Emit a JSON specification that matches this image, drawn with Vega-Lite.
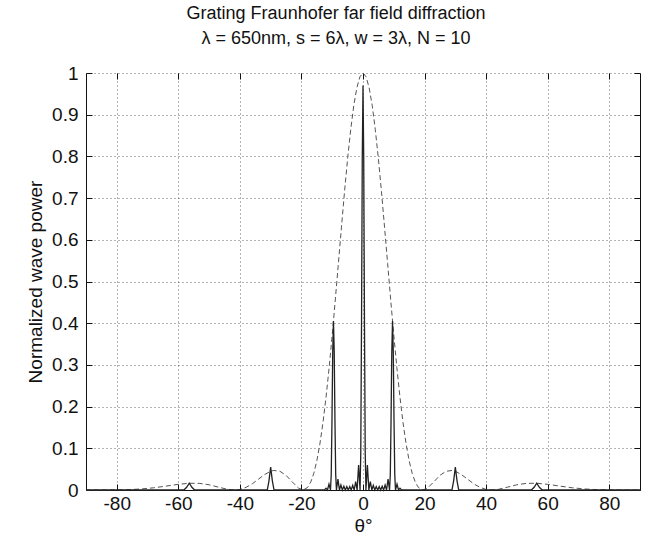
{
  "$schema": "https://vega.github.io/schema/vega-lite/v6.json",
  "width": 554,
  "height": 417,
  "autosize": {"type": "none"},
  "padding": {"left": 86, "top": 73, "right": 15, "bottom": 59},
  "background": "white",
  "title": {
    "text": ["Grating Fraunhofer far field diffraction", "λ = 650nm,  s = 6λ, w = 3λ, N = 10"],
    "fontSize": 18,
    "font": "Liberation Sans",
    "fontWeight": "normal",
    "color": "#111111",
    "offset": 16,
    "dx": -27,
    "lineHeight": 25,
    "anchor": "middle"
  },
  "config": {"view": {"stroke": null}, "font": "Liberation Sans"},
  "datasets": {
    "envelope": [
      {"t": -90, "p": 0}, {"t": -85, "p": 0}, {"t": -80, "p": 0.0002}, {"t": -76, "p": 0.0009},
      {"t": -72, "p": 0.0025}, {"t": -68, "p": 0.0053}, {"t": -64, "p": 0.0093}, {"t": -60, "p": 0.0136},
      {"t": -56.44, "p": 0.0162}, {"t": -53, "p": 0.0158}, {"t": -50, "p": 0.0125}, {"t": -47, "p": 0.0069},
      {"t": -44, "p": 0.0016}, {"t": -41.81, "p": 0}, {"t": -40, "p": 0.0013}, {"t": -38, "p": 0.0064},
      {"t": -36, "p": 0.0147}, {"t": -34, "p": 0.0258}, {"t": -32, "p": 0.0369}, {"t": -30, "p": 0.045},
      {"t": -29, "p": 0.0469}, {"t": -27, "p": 0.0449}, {"t": -25, "p": 0.0352}, {"t": -23, "p": 0.0195},
      {"t": -21, "p": 0.0048}, {"t": -19.47, "p": 0}, {"t": -18, "p": 0.0061}, {"t": -17, "p": 0.0187},
      {"t": -16, "p": 0.0394}, {"t": -15, "p": 0.07}, {"t": -14, "p": 0.1108}, {"t": -13, "p": 0.1617},
      {"t": -12, "p": 0.2233}, {"t": -11, "p": 0.2935}, {"t": -10, "p": 0.3718}, {"t": -9, "p": 0.4558},
      {"t": -8, "p": 0.5433}, {"t": -7, "p": 0.6303}, {"t": -6, "p": 0.7156}, {"t": -5, "p": 0.7944},
      {"t": -4, "p": 0.8638}, {"t": -3, "p": 0.9218}, {"t": -2, "p": 0.9645}, {"t": -1, "p": 0.991},
      {"t": 0, "p": 1},
      {"t": 1, "p": 0.991}, {"t": 2, "p": 0.9645}, {"t": 3, "p": 0.9218}, {"t": 4, "p": 0.8638},
      {"t": 5, "p": 0.7944}, {"t": 6, "p": 0.7156}, {"t": 7, "p": 0.6303}, {"t": 8, "p": 0.5433},
      {"t": 9, "p": 0.4558}, {"t": 10, "p": 0.3718}, {"t": 11, "p": 0.2935}, {"t": 12, "p": 0.2233},
      {"t": 13, "p": 0.1617}, {"t": 14, "p": 0.1108}, {"t": 15, "p": 0.07}, {"t": 16, "p": 0.0394},
      {"t": 17, "p": 0.0187}, {"t": 18, "p": 0.0061}, {"t": 19.47, "p": 0}, {"t": 21, "p": 0.0048},
      {"t": 23, "p": 0.0195}, {"t": 25, "p": 0.0352}, {"t": 27, "p": 0.0449}, {"t": 29, "p": 0.0469},
      {"t": 30, "p": 0.045}, {"t": 32, "p": 0.0369}, {"t": 34, "p": 0.0258}, {"t": 36, "p": 0.0147},
      {"t": 38, "p": 0.0064}, {"t": 40, "p": 0.0013}, {"t": 41.81, "p": 0}, {"t": 44, "p": 0.0016},
      {"t": 47, "p": 0.0069}, {"t": 50, "p": 0.0125}, {"t": 53, "p": 0.0158}, {"t": 56.44, "p": 0.0162},
      {"t": 60, "p": 0.0136}, {"t": 64, "p": 0.0093}, {"t": 68, "p": 0.0053}, {"t": 72, "p": 0.0025},
      {"t": 76, "p": 0.0009}, {"t": 80, "p": 0.0002}, {"t": 85, "p": 0}, {"t": 90, "p": 0}
    ],
    "grating": [
      {"t": -90, "p": 0}, {"t": -58.2, "p": 0}, {"t": -57.3, "p": 0.0066}, {"t": -56.44, "p": 0.0162},
      {"t": -55.6, "p": 0.0066}, {"t": -54.7, "p": 0}, {"t": -31.1, "p": 0}, {"t": -30.55, "p": 0.022},
      {"t": -30, "p": 0.055}, {"t": -29.45, "p": 0.022}, {"t": -28.9, "p": 0}, {"t": -12.52, "p": 0},
      {"t": -12.02, "p": 0.0044}, {"t": -11.54, "p": 0}, {"t": -11.05, "p": 0.014}, {"t": -10.56, "p": 0},
      {"t": -10.32, "p": 0.037}, {"t": -10.08, "p": 0.164}, {"t": -9.84, "p": 0.33}, {"t": -9.594, "p": 0.405},
      {"t": -9.35, "p": 0.33}, {"t": -9.11, "p": 0.164}, {"t": -8.87, "p": 0.037}, {"t": -8.63, "p": 0},
      {"t": -8.14, "p": 0.026}, {"t": -7.66, "p": 0}, {"t": -7.18, "p": 0.012}, {"t": -6.7, "p": 0},
      {"t": -6.22, "p": 0.009}, {"t": -5.74, "p": 0}, {"t": -5.26, "p": 0.008}, {"t": -4.78, "p": 0},
      {"t": -4.3, "p": 0.008}, {"t": -3.82, "p": 0}, {"t": -3.35, "p": 0.011}, {"t": -2.87, "p": 0},
      {"t": -2.39, "p": 0.02}, {"t": -1.91, "p": 0}, {"t": -1.43, "p": 0.06}, {"t": -0.955, "p": 0},
      {"t": -0.72, "p": 0.09}, {"t": -0.48, "p": 0.4}, {"t": -0.24, "p": 0.79}, {"t": 0, "p": 0.97},
      {"t": 0.24, "p": 0.79}, {"t": 0.48, "p": 0.4}, {"t": 0.72, "p": 0.09}, {"t": 0.955, "p": 0},
      {"t": 1.43, "p": 0.06}, {"t": 1.91, "p": 0}, {"t": 2.39, "p": 0.02}, {"t": 2.87, "p": 0},
      {"t": 3.35, "p": 0.011}, {"t": 3.82, "p": 0}, {"t": 4.3, "p": 0.008}, {"t": 4.78, "p": 0},
      {"t": 5.26, "p": 0.008}, {"t": 5.74, "p": 0}, {"t": 6.22, "p": 0.009}, {"t": 6.7, "p": 0},
      {"t": 7.18, "p": 0.012}, {"t": 7.66, "p": 0}, {"t": 8.14, "p": 0.026}, {"t": 8.63, "p": 0},
      {"t": 8.87, "p": 0.037}, {"t": 9.11, "p": 0.164}, {"t": 9.35, "p": 0.33}, {"t": 9.594, "p": 0.405},
      {"t": 9.84, "p": 0.33}, {"t": 10.08, "p": 0.164}, {"t": 10.32, "p": 0.037}, {"t": 10.56, "p": 0},
      {"t": 11.05, "p": 0.014}, {"t": 11.54, "p": 0}, {"t": 12.02, "p": 0.0044}, {"t": 12.52, "p": 0},
      {"t": 28.9, "p": 0}, {"t": 29.45, "p": 0.022}, {"t": 30, "p": 0.055}, {"t": 30.55, "p": 0.022},
      {"t": 31.1, "p": 0}, {"t": 54.7, "p": 0}, {"t": 55.6, "p": 0.0066}, {"t": 56.44, "p": 0.0162},
      {"t": 57.3, "p": 0.0066}, {"t": 58.2, "p": 0}, {"t": 90, "p": 0}
    ]
  },
  "layer": [
    {
      "data": {"name": "envelope"},
      "mark": {"type": "line", "color": "#555555", "strokeWidth": 1, "strokeDash": [5, 3]},
      "encoding": {
        "x": {
          "field": "t", "type": "quantitative",
          "scale": {"domain": [-90, 90], "nice": false, "zero": false},
          "axis": {
            "orient": "bottom", "values": [-80, -60, -40, -20, 0, 20, 40, 60, 80],
            "labelExpr": "'' + datum.value", "title": "θ°",
            "labelFont": "Liberation Sans", "labelFontSize": 19, "labelColor": "#111111",
            "titleFont": "Liberation Sans", "titleFontSize": 19, "titleFontWeight": "normal", "titleColor": "#111111",
            "titlePadding": 3, "tickSize": -6, "labelPadding": 10,
            "domainColor": "#111111", "tickColor": "#111111",
            "grid": true, "gridDash": [1, 3], "gridColor": "#666666", "gridWidth": 1
          }
        },
        "y": {
          "field": "p", "type": "quantitative",
          "scale": {"domain": [0, 1], "nice": false},
          "axis": {
            "orient": "left", "values": [0, 0.1, 0.2, 0.3, 0.4, 0.5, 0.6, 0.7, 0.8, 0.9, 1],
            "labelExpr": "'' + datum.value", "title": "Normalized wave power",
            "labelFont": "Liberation Sans", "labelFontSize": 19, "labelColor": "#111111",
            "titleFont": "Liberation Sans", "titleFontSize": 19, "titleFontWeight": "normal", "titleColor": "#111111",
            "titlePadding": 6, "tickSize": -6, "labelPadding": 14,
            "domainColor": "#111111", "tickColor": "#111111",
            "grid": true, "gridDash": [1, 3], "gridColor": "#666666", "gridWidth": 1
          }
        }
      }
    },
    {
      "data": {"name": "grating"},
      "mark": {"type": "line", "color": "#222222", "strokeWidth": 1.3},
      "encoding": {
        "x": {
          "field": "t", "type": "quantitative",
          "scale": {"domain": [-90, 90], "nice": false, "zero": false},
          "axis": {
            "orient": "top", "values": [-80, -60, -40, -20, 0, 20, 40, 60, 80],
            "labels": false, "title": null, "domain": false, "grid": false,
            "tickSize": -6, "tickColor": "#111111"
          }
        },
        "y": {
          "field": "p", "type": "quantitative",
          "scale": {"domain": [0, 1], "nice": false},
          "axis": {
            "orient": "right", "values": [0, 0.1, 0.2, 0.3, 0.4, 0.5, 0.6, 0.7, 0.8, 0.9, 1],
            "labels": false, "title": null, "grid": false,
            "tickSize": -6, "tickColor": "#111111", "domainColor": "#111111"
          }
        }
      }
    }
  ],
  "resolve": {"axis": {"x": "independent", "y": "independent"}}
}
